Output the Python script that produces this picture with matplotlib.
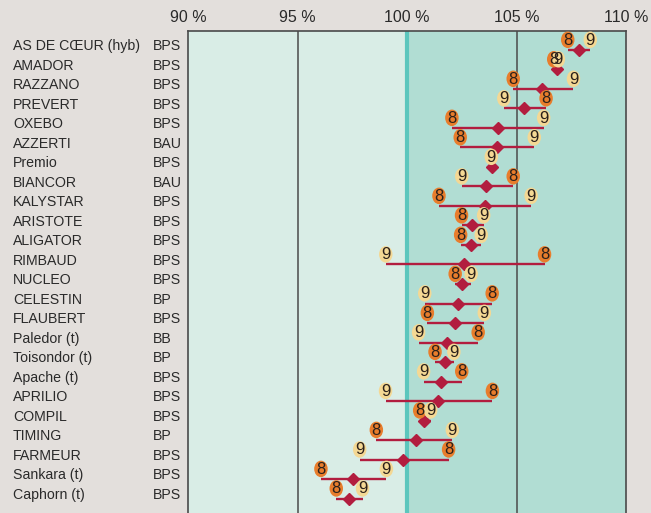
import numpy as np
import matplotlib.pyplot as plt
import matplotlib.transforms as mtransforms
from matplotlib.patches import Ellipse

plt.rcParams['font.family'] = ['Liberation Sans', 'DejaVu Sans']

varieties = ["AS DE CŒUR (hyb)", "AMADOR", "RAZZANO", "PREVERT", "OXEBO", "AZZERTI",
             "Premio", "BIANCOR", "KALYSTAR", "ARISTOTE", "ALIGATOR", "RIMBAUD",
             "NUCLEO", "CELESTIN", "FLAUBERT", "Paledor (t)", "Toisondor (t)",
             "Apache (t)", "APRILIO", "COMPIL", "TIMING", "FARMEUR", "Sankara (t)",
             "Caphorn (t)"]
classes = ["BPS", "BPS", "BPS", "BPS", "BPS", "BAU", "BPS", "BAU", "BPS", "BPS", "BPS",
           "BPS", "BPS", "BP", "BPS", "BB", "BP", "BPS", "BPS", "BPS", "BP", "BPS",
           "BPS", "BPS"]
# rendement en % de la moyenne des témoins, 2008 / 2009 / moyenne
val_2008 = [107.34, 106.7, 104.85, 106.35, 102.05, 102.43, np.nan, 104.85, 101.46,
            102.49, 102.45, 106.28, 102.2, 103.89, 100.93, 103.25, 101.28, 102.5,
            103.9, 100.58, 98.6, 101.9, 96.07, 96.77]
val_2009 = [108.37, 106.91, 107.6, 104.42, 106.24, 105.81, 103.85, 102.5, 105.67,
            103.5, 103.39, 99.03, 102.93, 100.81, 103.53, 100.53, 102.14, 100.76,
            99.02, 101.08, 102.07, 97.84, 99.06, 97.97]
moyenne = [107.86, 106.85, 106.17, 105.32, 104.17, 104.12, 103.87, 103.63, 103.54,
           102.98, 102.9, 102.6, 102.52, 102.31, 102.2, 101.82, 101.72, 101.55,
           101.4, 100.78, 100.4, 99.82, 97.53, 97.36]
ticks = [90, 95, 100, 105, 110]

bg = '#e3dfdc'
fig = plt.figure(figsize=(6.51, 5.13), dpi=100, facecolor=bg)
ax = fig.add_axes([188 / 651, 0, 438 / 651, (513 - 31) / 513])

n = len(varieties)
ax.set_xlim(90, 110)
ax.set_ylim(23.74, -0.97)
ax.axvspan(90, 100, color='#d9ede6', zorder=0)
ax.axvspan(100, 110, color='#b1ddd3', zorder=0)
ax.axvline(95, color='#4a4a4a', lw=1.1, zorder=1)
ax.axvline(105, color='#4a4a4a', lw=1.1, zorder=1)
ax.axvline(100, color='#5cc6bd', lw=3, zorder=1)

red = '#b21d3f'
ew, eh = 13.5 / 21.94, 16.5 / 19.5
for i in range(n):
    a, b = val_2008[i], val_2009[i]
    pts = [v for v in (a, b) if not np.isnan(v)]
    if len(pts) == 2:
        ax.plot([min(pts), max(pts)], [i, i], color=red, lw=1.7, zorder=2, solid_capstyle='butt')
    ax.plot(moyenne[i], i, marker='D', ms=6.5, color=red, mec=red, zorder=3)
    for v, lab, fc in ((a, '8', '#e87d2c'), (b, '9', '#f4d894')):
        if np.isnan(v):
            continue
        ax.add_patch(Ellipse((v, i - 0.52), ew, eh, facecolor=fc, edgecolor='none', zorder=4))
        ax.text(v, i - 0.5, lab, ha='center', va='center', fontsize=12,
                color='#2b211b', zorder=5)

# libellés des variétés
tr = mtransforms.blended_transform_factory(fig.transFigure, ax.transData)
for i in range(n):
    ax.text(13 / 651, i - 0.2, varieties[i], transform=tr, ha='left', va='center',
            fontsize=10.2, color='#2a2a2a', clip_on=False)
    ax.text(153 / 651, i - 0.2, classes[i], transform=tr, ha='left', va='center',
            fontsize=10.2, color='#2a2a2a', clip_on=False)

ax.xaxis.tick_top()
ax.set_xticks(ticks)
ax.set_xticklabels([f'{t} %' for t in ticks], fontsize=11.5, color='#2a2a2a')
ax.tick_params(axis='x', length=0, pad=4)
ax.set_yticks([])
for s in ('top', 'left', 'right'):
    ax.spines[s].set_color('#4a4a4a')
    ax.spines[s].set_linewidth(1.2)
ax.spines['bottom'].set_visible(False)

fig.savefig('out.png', dpi=100, facecolor=bg)
